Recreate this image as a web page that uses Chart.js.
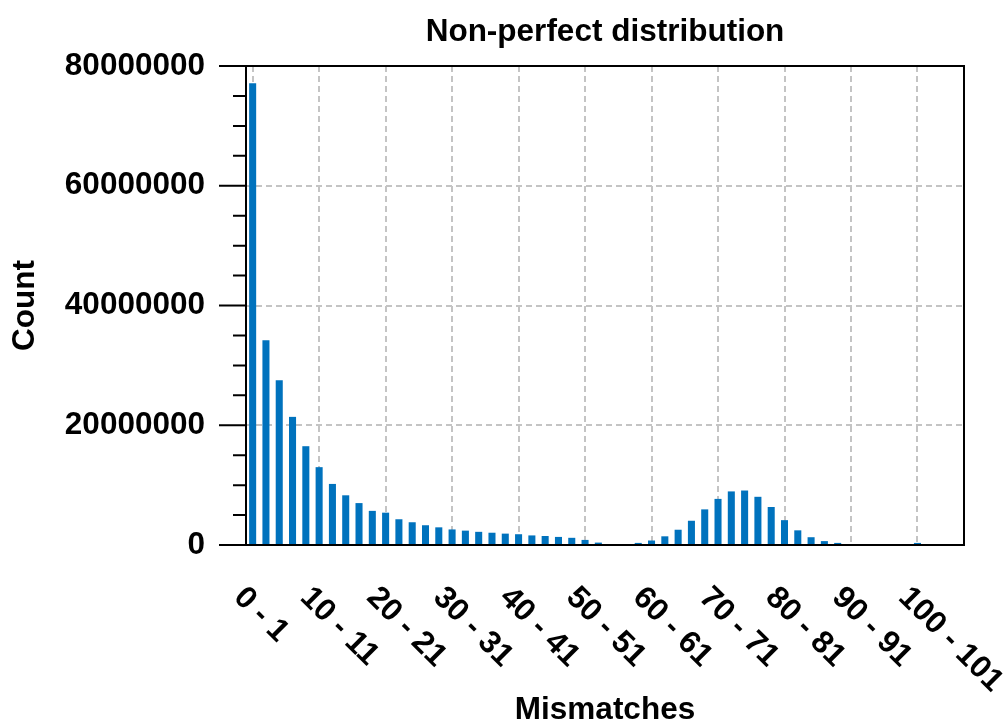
<!DOCTYPE html>
<html>
<head>
<meta charset="utf-8">
<title>Non-perfect distribution</title>
<script src="https://cdn.jsdelivr.net/npm/chart.js@4.4.1/dist/chart.umd.min.js"></script>
<style>
  html, body { margin: 0; padding: 0; background: #fff; }
  #chart { display: block; }
</style>
</head>
<body>
<canvas id="chart" width="1007" height="726"></canvas>
<script>
// mismatch bins (width 2)
var binLabels = [
    "0 - 1", "2 - 3", "4 - 5", "6 - 7", "8 - 9",
    "10 - 11", "12 - 13", "14 - 15", "16 - 17", "18 - 19",
    "20 - 21", "22 - 23", "24 - 25", "26 - 27", "28 - 29",
    "30 - 31", "32 - 33", "34 - 35", "36 - 37", "38 - 39",
    "40 - 41", "42 - 43", "44 - 45", "46 - 47", "48 - 49",
    "50 - 51", "52 - 53", "54 - 55", "56 - 57", "58 - 59",
    "60 - 61", "62 - 63", "64 - 65", "66 - 67", "68 - 69",
    "70 - 71", "72 - 73", "74 - 75", "76 - 77", "78 - 79",
    "80 - 81", "82 - 83", "84 - 85", "86 - 87", "88 - 89",
    "90 - 91", "92 - 93", "94 - 95", "96 - 97", "98 - 99",
    "100 - 101", "102 - 103", "104 - 105", "106 - 107"
];

var counts = [
    77100000, 34200000, 27500000, 21400000, 16500000,
    13000000, 10200000, 8300000, 7000000, 5700000,
    5400000, 4300000, 3800000, 3300000, 2950000,
    2600000, 2400000, 2200000, 2050000, 1900000,
    1800000, 1600000, 1500000, 1350000, 1200000,
    850000, 400000, 0, 0, 350000,
    750000, 1450000, 2550000, 4050000, 5950000,
    7700000, 8950000, 9100000, 8050000, 6350000,
    4150000, 2450000, 1300000, 650000, 350000,
    0, 0, 0, 0, 0,
    350000, 0, 0, 0
];

// every 5th bin gets a label and a grid line
var labelEvery = 5;
var yMax = 80000000;
var yMajorStep = 20000000;
var yMinorStep = 5000000;

var FONT = "'Liberation Sans', Arial, Helvetica, sans-serif";
var FONT_SIZE = 31.5;
var gridGray = '#c4c4c4';

Chart.defaults.font.family = FONT;
Chart.defaults.color = '#000';

// box around the plot, y tick marks, and slanted bin labels
var axesDecor = {
    id: 'axesDecor',
    afterDatasetsDraw: function(chart) {
        var ctx = chart.ctx;
        var a = chart.chartArea;
        var y = chart.scales.y;
        ctx.save();
        ctx.strokeStyle = '#000';
        ctx.lineWidth = 2;
        ctx.strokeRect(a.left, a.top, a.right - a.left, a.bottom - a.top);
        ctx.beginPath();
        for (var v = 0; v <= yMax; v += yMinorStep) {
            var py = y.getPixelForValue(v);
            var len = (v % yMajorStep === 0) ? 27 : 13;
            ctx.moveTo(a.left - len, py);
            ctx.lineTo(a.left, py);
        }
        ctx.stroke();
        ctx.restore();
    },
    afterDraw: function(chart) {
        var ctx = chart.ctx;
        var x = chart.scales.x;
        ctx.save();
        ctx.fillStyle = '#000';
        ctx.font = 'bold ' + FONT_SIZE + 'px ' + FONT;
        ctx.textAlign = 'left';
        ctx.textBaseline = 'middle';
        for (var i = 0; i < binLabels.length; i += labelEvery) {
            var px = x.getPixelForValue(i);
            ctx.save();
            ctx.translate(px - 14, 592.5);
            ctx.rotate(Math.PI / 4);
            ctx.fillText(binLabels[i], 0, 0);
            ctx.restore();
        }
        ctx.restore();
    }
};

var config = {
    type: 'bar',
    data: {
        labels: binLabels,
        datasets: [{
            label: 'Count',
            data: counts,
            backgroundColor: '#0072BD',
            borderWidth: 0,
            barPercentage: 0.53,
            categoryPercentage: 1.0
        }]
    },
    options: {
        responsive: false,
        animation: false,
        devicePixelRatio: 1,
        layout: {
            padding: { left: 0, right: 43, top: 0, bottom: 0 }
        },
        plugins: {
            legend: { display: false },
            tooltip: { enabled: false },
            title: {
                display: true,
                text: 'Non-perfect distribution',
                fullSize: false,
                color: '#000',
                font: { size: FONT_SIZE, weight: 'bold', lineHeight: 1 },
                padding: { top: 16.25, bottom: 18.25 }
            }
        },
        scales: {
            x: {
                offset: true,
                grid: {
                    offset: false,
                    drawTicks: false,
                    lineWidth: 2,
                    color: function(c) {
                        return (c.index % labelEvery === 0) ? gridGray : 'rgba(0,0,0,0)';
                    }
                },
                border: { display: false, dash: [6, 4] },
                ticks: { display: false },
                title: {
                    display: true,
                    text: 'Mismatches',
                    color: '#000',
                    font: { size: FONT_SIZE, weight: 'bold', lineHeight: 1 },
                    padding: { top: 149.5, bottom: 0 }
                }
            },
            y: {
                min: 0,
                max: yMax,
                afterFit: function(scale) { scale.width = 246; },
                grid: {
                    drawTicks: false,
                    lineWidth: 2,
                    color: gridGray
                },
                border: { display: false, dash: [6, 4] },
                ticks: {
                    stepSize: yMajorStep,
                    padding: 41,
                    color: '#000',
                    font: { size: FONT_SIZE, weight: 'bold' },
                    callback: function(value) { return String(value); }
                },
                title: {
                    display: true,
                    text: 'Count',
                    color: '#000',
                    font: { size: FONT_SIZE, weight: 'bold', lineHeight: 1 },
                    padding: { top: 9.25, bottom: 0 }
                }
            }
        }
    },
    plugins: [axesDecor]
};

window.onload = function() {
    var ctx = document.getElementById('chart').getContext('2d');
    window.mismatchChart = new Chart(ctx, config);
};
</script>
</body>
</html>
